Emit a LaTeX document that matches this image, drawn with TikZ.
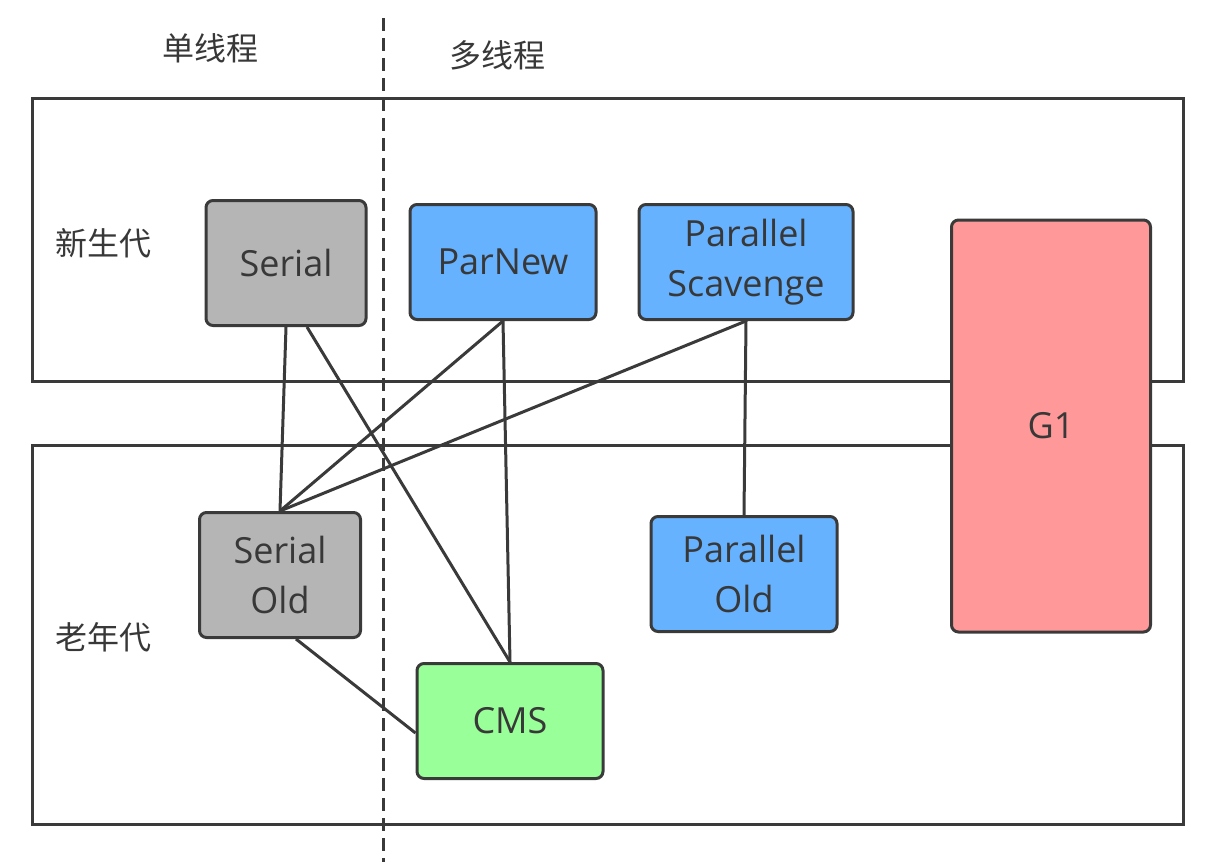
\documentclass[tikz,border=0pt]{standalone}
\usepackage{fontspec}
\setmainfont{Open Sans}
\newfontfamily\cjk{Noto Sans CJK SC}
\usepackage{xcolor}
\usetikzlibrary{calc}
\usetikzlibrary{positioning}
\definecolor{linegray}{HTML}{3A3A3A}
\definecolor{textgray}{HTML}{383838}
\definecolor{serialfill}{HTML}{B5B5B5}
\definecolor{parfill}{HTML}{66B2FF}
\definecolor{cmsfill}{HTML}{99FF99}
\definecolor{gonefill}{HTML}{FF9999}

\begin{document}
\begin{tikzpicture}[x=1pt,y=-1pt,-,semithick]
  \tikzstyle{gc}=[draw=linegray, line width=3pt, rounded corners=7pt, text=textgray, align=center, inner sep=0pt, font=\fontsize{36}{50}\selectfont]
  \tikzstyle{frame}=[draw=linegray, line width=3pt]
  \tikzstyle{lbl}=[text=textgray, inner sep=0pt, font=\cjk\fontsize{32}{36}\selectfont]
  \tikzstyle{link}=[draw=linegray, line width=3pt]
  \useasboundingbox (0,0) rectangle (1218,862);

  % generations
  \draw[frame] (32,98) rectangle (1183,381);
  \draw[frame] (32,445) rectangle (1183,824);
  \draw[draw=linegray, line width=3pt, dash pattern=on 13pt off 7pt] (383,18) -- (383,862);

  \node[lbl] (single) at (210,48) {单线程};
  \node[lbl] (multi)  at (497,55) {多线程};
  \node[lbl] (young)  at (103,243) {新生代};
  \node[lbl] (old)    at (103,637) {老年代};

  % collectors
  \node[gc, fill=serialfill, minimum width=160pt, minimum height=125pt] (serial) at (286,263) {Serial};
  \node[gc, fill=parfill, minimum width=186pt, minimum height=115pt] (parnew) at (503,262) {ParNew};
  \node[gc, fill=parfill, minimum width=214pt, minimum height=115pt] (pscav) at (746,262) {Parallel\\Scavenge};
  \node[gc, fill=gonefill, minimum width=199pt, minimum height=412pt] (gone) at (1051,426) {G1};
  \node[gc, fill=serialfill, minimum width=161pt, minimum height=125pt] (serialold) at (280,575) {Serial\\Old};
  \node[gc, fill=parfill, minimum width=186pt, minimum height=115pt] (parold) at (744,574) {Parallel\\Old};
  \node[gc, fill=cmsfill, minimum width=186pt, minimum height=115pt] (cms) at (510,721) {CMS};

  % combinations
  \foreach \i/\j in {serial/serialold, parnew/serialold, parnew/cms, pscav/serialold, pscav/parold}{
    \draw[link] (\i.south) -- (\j.north);
  }
  \draw[link] ([xshift=21pt]serial.south) -- (cms.north);
  \draw[link] ([xshift=16pt]serialold.south) -- ([yshift=-12pt]cms.west);
\end{tikzpicture}
\end{document}
